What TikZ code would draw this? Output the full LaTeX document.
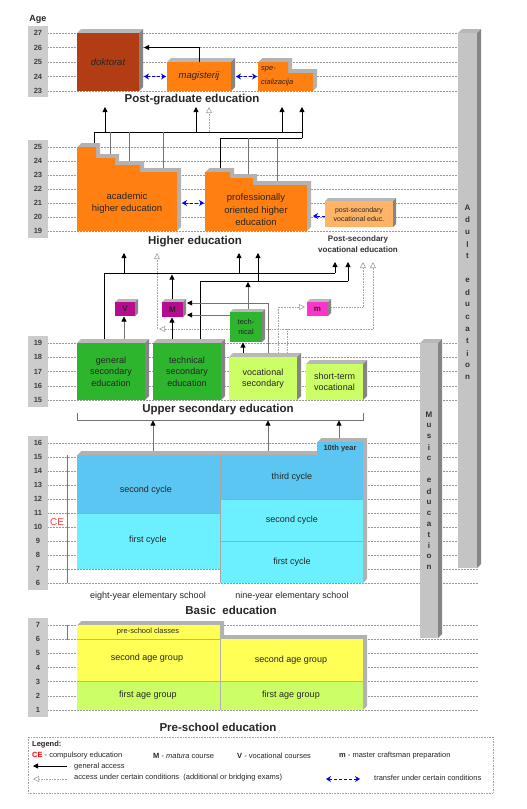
\documentclass[tikz,border=0pt]{standalone}
\usepackage{fontspec}
\setmainfont{Liberation Sans}
\usetikzlibrary{arrows.meta,calc}
\definecolor{dokc}{HTML}{B23C14}
\definecolor{orgc}{HTML}{FF7F10}
\definecolor{psvc}{HTML}{FFB366}
\definecolor{grnc}{HTML}{2DB52D}
\definecolor{lgrc}{HTML}{CCFF66}
\definecolor{magc}{HTML}{B80C90}
\definecolor{pnkc}{HTML}{FF33CC}
\definecolor{bluc}{HTML}{5CC6F2}
\definecolor{cyac}{HTML}{6CF0FF}
\definecolor{yelc}{HTML}{FFFF55}
\definecolor{barc}{HTML}{C4C4C4}
\definecolor{redc}{HTML}{FF4040}
\newcommand\cube[7][4]{%
  \fill[topf] (#3,#4) -- ++(#1,-#1) -- (#5+#1,#4-#1) -- (#5,#4) -- cycle;
  \fill[sidef] (#5,#4) -- (#5+#1,#4-#1) -- (#5+#1,#6-#1) -- (#5,#6) -- cycle;
  \node[fill=#7, inner sep=0pt, outer sep=0pt, anchor=north west,
        minimum width={(#5)-(#3)}, minimum height={(#6)-(#4)}] (#2) at (#3,#4) {};
}
\newcommand\extrude[1]{\foreach \t in {0.5,1,...,4}{\fill[black!30, shift={(\t,-\t)}] #1;}}
\begin{document}
\begin{tikzpicture}[x=1pt,y=-1pt,
  gridl/.style={black!40, densely dotted, line width=0.5pt},
  agecol/.style={fill=black!20},
  agen/.style={font=\fontsize{7.5}{8}\selectfont\bfseries, text=black!75, inner sep=0pt},
  ttl/.style={font=\fontsize{11.5}{13}\selectfont\bfseries, text=black!85, inner sep=0pt},
  btx/.style={font=\fontsize{9}{11.5}\selectfont, align=center, text=black!85, inner sep=0pt},
  htx/.style={font=\fontsize{9.5}{12.5}\selectfont, align=center, text=black!85, inner sep=0pt},
  stx/.style={font=\fontsize{7.5}{9}\selectfont, text=black!85, inner sep=0pt},
  bartx/.style={font=\fontsize{8}{9}\selectfont\bfseries, text=black!80, inner sep=0pt},
  topf/.style={fill=black!28},
  sidef/.style={fill=black!48},
  accl/.style={black, line width=0.8pt},
  acc/.style={accl, -{Triangle[length=5pt,width=5pt]}},
  gline/.style={black!55, line width=0.8pt},
  gacc/.style={gline, -{Triangle[length=5pt,width=5pt,color=black]}},
  condl/.style={black!35, densely dotted, line width=0.6pt},
  cond/.style={condl, -{Triangle[open,length=6pt,width=6pt]}},
  trans/.style={blue, densely dashed, line width=0.8pt, {Stealth[length=5pt,width=6pt]}-{Stealth[length=5pt,width=6pt]}},
  trans1/.style={blue, densely dashed, line width=0.8pt, -{Stealth[length=5pt,width=6pt]}},
]
\useasboundingbox (0,0) rectangle (527,809);
\fill[white] (0,0) rectangle (527,809);

% ---------- grid lines
\foreach \k in {0,...,4} \draw[gridl] (48,33+14.5*\k) -- (458,33+14.5*\k);
\foreach \k in {0,...,6} \draw[gridl] (48,147+14*\k) -- (458,147+14*\k);
\foreach \k in {0,...,4} \draw[gridl] (48,343+14.25*\k) -- (478,343+14.25*\k);
\foreach \k in {0,...,10} \draw[gridl] (48,443+14*\k) -- (478,443+14*\k);
\foreach \k in {0,...,6} \draw[gridl] (48,625+14.17*\k) -- (478,625+14.17*\k);

% ---------- age columns
\node[font=\fontsize{9}{10}\selectfont\bfseries, text=black!85] (age) at (38,19) {Age};
\fill[agecol] (28,26) rectangle (48,97);
\foreach \a [count=\i from 0] in {27,26,25,24,23} \node[agen] (p\a) at (38,33+14.5*\i) {\a};
\fill[agecol] (28,140) rectangle (48,238);
\foreach \a [count=\i from 0] in {25,24,23,22,21,20,19} \node[agen] (h\a) at (38,147+14*\i) {\a};
\fill[agecol] (28,336) rectangle (48,407);
\foreach \a [count=\i from 0] in {19,18,17,16,15} \node[agen] (u\a) at (38,343+14.25*\i) {\a};
\fill[agecol] (28,436) rectangle (48,590);
\foreach \a [count=\i from 0] in {16,15,14,13,12,11,10,9,8,7,6} \node[agen] (b\a) at (38,443+14*\i) {\a};
\fill[agecol] (28,618) rectangle (48,717);
\foreach \a [count=\i from 0] in {7,6,5,4,3,2,1} \node[agen] (s\a) at (38,625+14.17*\i) {\a};

% ---------- side bars
\cube{adult}{458}{33}{477}{568}{barc}
\foreach \l [count=\i from 0] in {A,d,u,l,t,{},e,d,u,c,a,t,i,o,n} \node[bartx] (ad\i) at (467.5,208+12.1*\i) {\l};
\cube{music}{420}{343}{438}{638}{barc}
\foreach \l [count=\i from 0] in {M,u,s,i,c,{},e,d,u,c,a,t,i,o,n} \node[bartx] (mu\i) at (429,415+10.9*\i) {\l};

% ---------- connectors higher -> post-graduate (drawn under boxes)
\draw[accl] (94,150) -- (94,132) -- (302,132);
\draw[gline] (110,132) -- (110,162) (129,132) -- (129,170) (163,132) -- (163,178);
\draw[accl] (220,176) -- (220,138) -- (302,138);
\draw[gline] (248,138) -- (248,182) (277,138) -- (277,190);
\draw[acc] (105,132) -- (105,107);
\draw[acc] (196,132) -- (196,107);
\draw[acc] (282,132) -- (282,107);
\draw[acc] (302,138) -- (302,107);
\draw[cond] (209,132) -- (209,107);

% ---------- connectors upper secondary -> higher
\draw[condl] (287,370) -- (287,329) -- (373,329);
\draw[cond] (373,329) -- (373,262);
\draw[cond] (287,329) -- (159,329);
\draw[cond] (157,329) -- (157,253);
\draw[cond] (278,370) -- (278,307) -- (305,307);
\draw[condl] (320,307) -- (363,307);
\draw[cond] (363,307) -- (363,262);
\draw[accl] (104,360) -- (104,273) -- (335,273);
\draw[acc] (335,273) -- (335,262);
\draw[acc] (124,273) -- (124,253);
\draw[acc] (239,273) -- (239,253);
\draw[accl] (200,360) -- (200,281) -- (348,281);
\draw[acc] (348,281) -- (348,262);
\draw[acc] (258,281) -- (258,253);
\draw[acc] (172,308) -- (172,274.5);
\draw[gacc] (124,360) -- (124,316.5);
\draw[acc] (172,360) -- (172,317.5);
\draw[gacc] (268,370) -- (268,303) -- (187,303);
\draw[gacc] (240,315) -- (187,315);
\draw[acc] (243,370) -- (243,342.5);
\draw[gacc] (248,320) -- (248,282);

% ---------- basic -> upper secondary
\draw[gline] (77,413) -- (77,420) -- (363,420) -- (363,413);
\draw[gacc] (153,470) -- (153,420.5);
\draw[gacc] (268,470) -- (268,420.5);
\draw[gacc] (339,450) -- (339,420.5);

% ---------- post-graduate
\cube{dok}{77}{33}{139}{91}{dokc}
\node[font=\fontsize{9.5}{10}\selectfont\itshape, text=black!85] (dokt) at (dok) {doktorat};
\cube{mag}{167}{62}{231}{91}{orgc}
\node[font=\fontsize{9.5}{10}\selectfont\itshape, text=black!85] (magt) at (mag) {magisterij};
\extrude{(258,62) -- (288,62) -- (288,73) -- (313,73) -- (313,91) -- (258,91) -- cycle}
\fill[orgc] (258,62) -- (288,62) -- (288,73) -- (313,73) -- (313,91) -- (258,91) -- cycle;
\node[font=\fontsize{7.5}{9}\selectfont\itshape, text=black!85, anchor=west, inner sep=0pt] (spe1) at (261,69) {spe-};
\node[font=\fontsize{7.5}{9}\selectfont\itshape, text=black!85, anchor=west, inner sep=0pt] (spe2) at (261,83) {cializacija};
\coordinate (spe) at (257,76.5);
\draw[trans] ($(dok.east)+(5,14.5)$) -- ($(mag.west)+(-1,0)$);
\draw[trans] ($(mag.east)+(5,0)$) -- (spe);
\draw[acc] (mag.north) |- ($(dok.north east)+(5,14.5)$);
\node[ttl] (tpg) at (192,100) {Post-graduate education};

% ---------- higher education
\extrude{(77,147) -- (96,147) -- (96,158) -- (115,158) -- (115,165) -- (140,165) -- (140,172) -- (177,172) -- (177,231) -- (77,231) -- cycle}
\fill[orgc] (77,147) -- (96,147) -- (96,158) -- (115,158) -- (115,165) -- (140,165) -- (140,172) -- (177,172) -- (177,231) -- (77,231) -- cycle;
\node[htx] (acad) at (127,203) {academic\\higher education};
\extrude{(205,172) -- (230,172) -- (230,178) -- (253,178) -- (253,185) -- (307,185) -- (307,231) -- (205,231) -- cycle}
\fill[orgc] (205,172) -- (230,172) -- (230,178) -- (253,178) -- (253,185) -- (307,185) -- (307,231) -- (205,231) -- cycle;
\node[htx] (prof) at (256,210) {professionally\\oriented higher\\education};
\cube[3]{psv}{325}{201}{393}{227}{psvc}
\node[font=\fontsize{7}{9}\selectfont, align=center, text=black!85] (psvt) at (psv) {post-secondary\\vocational educ.};
\coordinate (acadE) at (182,203);
\coordinate (profW) at (204,203);
\draw[trans] (acadE) -- (profW);
\coordinate (profE) at (313,216);
\draw[trans1] (psv.west |- profE) -- (profE);
\node[ttl] (the) at (195,242) {Higher education};
\node[font=\fontsize{8}{11}\selectfont\bfseries, align=center, text=black!80] (psl) at (358,244) {Post-secondary\\vocational education};

% ---------- upper secondary
\cube{gen}{77}{343}{145}{400}{grnc}
\node[btx] (gent) at (gen) {general\\secondary\\education};
\cube{tec}{153}{343}{221}{400}{grnc}
\node[btx] (tect) at (tec) {technical\\secondary\\education};
\cube{voc}{229}{357}{297}{400}{lgrc}
\node[btx] (voct) at (voc) {vocational\\secondary};
\cube{sht}{306}{364}{363}{400}{lgrc}
\node[btx] (shtt) at (sht) {short-term\\vocational};
\cube[3]{V}{115}{302}{135}{316}{magc}
\node[font=\fontsize{8}{9}\selectfont\bfseries, text=black!85] (Vt) at (V) {V};
\cube[3]{M}{162}{302}{183}{317}{magc}
\node[font=\fontsize{8}{9}\selectfont\bfseries, text=black!85] (Mt) at (M) {M};
\cube[3]{m}{307}{302}{328}{316}{pnkc}
\node[font=\fontsize{8}{9}\selectfont\bfseries, text=black!85] (mt) at (m) {m};
\cube[3]{tnc}{230}{312}{262}{342}{grnc}
\node[font=\fontsize{7.5}{10}\selectfont, align=center, text=black!85] (tnct) at (tnc) {tech-\\nical};
\node[ttl] (tus) at (218,410) {Upper secondary education};

% ---------- basic education
\extrude{(77,455) -- (317,455) -- (317,442) -- (363,442) -- (363,583) -- (220,583) -- (220,569) -- (77,569) -- cycle}
\fill[bluc] (77,455) rectangle (220,513);
\fill[cyac] (77,513) rectangle (220,569);
\fill[bluc] (220,455) rectangle (363,499);
\fill[bluc] (317,442) rectangle (363,455);
\fill[cyac] (220,499) rectangle (363,583);
\draw[black!35, line width=0.4pt] (220,455) -- (220,583) (77,513) -- (220,513) (220,499) -- (363,499) (220,541) -- (363,541);
\node[btx] (e2) at (146,490) {second cycle};
\node[btx] (e1) at (148,540) {first cycle};
\node[font=\fontsize{7.5}{9}\selectfont\bfseries, text=black!80] (n10) at (340,449) {10th year};
\node[btx] (n3) at (292,477) {third cycle};
\node[btx] (n2) at (292,520) {second cycle};
\node[btx] (n1) at (292,562) {first cycle};
\draw[redc, line width=0.6pt] (67,455) -- (67,583);
\draw[redc, line width=0.6pt] (67,625) -- (67,640);
\node[text=redc, font=\fontsize{10}{11}\selectfont] (ce) at (57,522) {CE};
\node[btx] (eys) at (148,596) {eight-year elementary school};
\node[btx] (nys) at (292,596) {nine-year elementary school};
\node[ttl] (tbe) at (231,610) {Basic\ \ education};

% ---------- pre-school
\extrude{(77,625) -- (220,625) -- (220,639) -- (363,639) -- (363,710) -- (77,710) -- cycle}
\fill[yelc] (77,625) rectangle (220,681);
\fill[yelc] (220,639) rectangle (363,681);
\fill[lgrc] (77,681) rectangle (363,710);
\draw[black!30, line width=0.4pt] (220,639) -- (220,710) (77,681) -- (363,681) (77,639) -- (220,639);
\node[font=\fontsize{7.5}{9}\selectfont, text=black!85] (psc) at (148,632) {pre-school classes};
\node[btx] (s2l) at (147,658) {second age group};
\node[btx] (s2r) at (291,660) {second age group};
\node[btx] (s1l) at (148,695) {first age group};
\node[btx] (s1r) at (291,695) {first age group};
\node[ttl] (tps) at (218,727) {Pre-school education};

% ---------- legend
\draw[condl] (28,737) rectangle (493,793);
\node[font=\fontsize{7.5}{9}\selectfont\bfseries, text=black!85, anchor=west, inner sep=0pt] (lg) at (32,745) {Legend:};
\node[stx, anchor=west] (lce) at (32,756) {\textcolor{red}{\textbf{CE}} - compulsory education};
\node[stx, anchor=west] (lm) at (153,756) {\textbf{M} - \textit{matura} course};
\node[stx, anchor=west] (lv) at (237,756) {\textbf{V} - vocational courses};
\node[stx, anchor=west] (lmm) at (339,756) {\textbf{m} - master craftsman preparation};
\coordinate (lga1) at (67,766);
\coordinate (lga2) at (33,766);
\draw[acc] (lga1) -- (lga2);
\node[stx, anchor=west] (lga) at (74,767) {general access};
\coordinate (lac1) at (67,779);
\coordinate (lac2) at (33,779);
\draw[cond] (lac1) -- (lac2);
\node[stx, anchor=west] (lac) at (74,778) {access under certain conditions\ \ (additional or bridging exams)};
\coordinate (ltr1) at (326,779);
\coordinate (ltr2) at (360,779);
\draw[trans] (ltr1) -- (ltr2);
\node[stx, anchor=west] (ltr) at (374,778) {transfer under certain conditions};
\end{tikzpicture}
\end{document}
